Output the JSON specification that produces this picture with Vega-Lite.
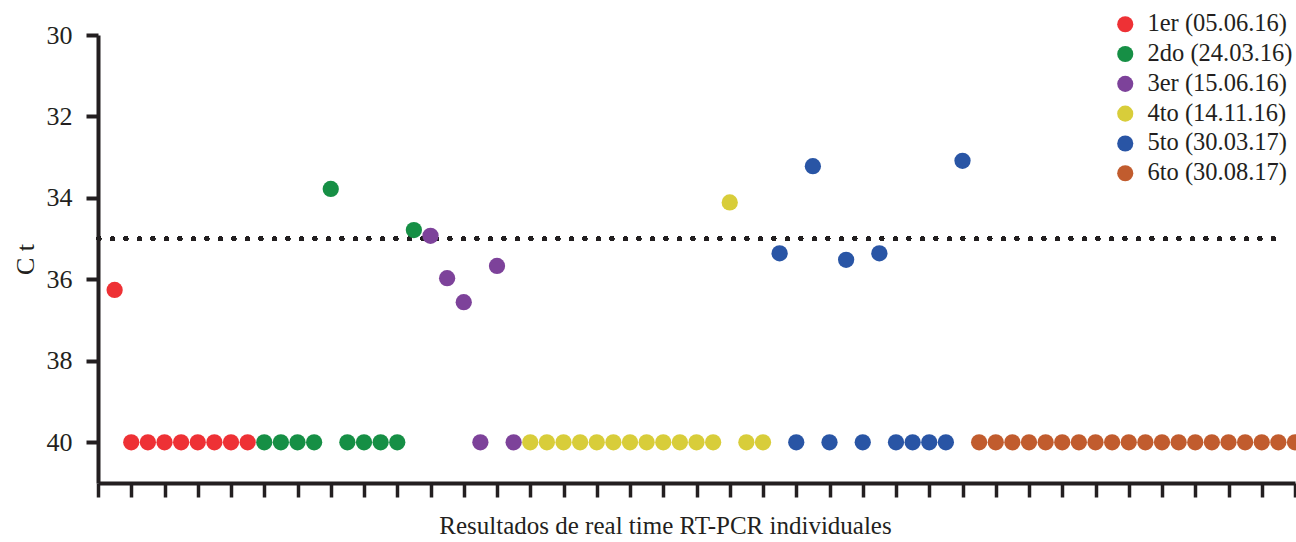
{
  "$schema": "https://vega.github.io/schema/vega-lite/v6.json",
  "width": 1197,
  "height": 448,
  "autosize": {"type": "none"},
  "padding": {"left": 98, "top": 35, "right": 1, "bottom": 59},
  "background": "white",
  "config": {"view": {"stroke": null}, "font": "Liberation Serif"},
  "data": {
    "values": [
      {"i": 1, "ct": 36.26, "serie": "1er (05.06.16)"},
      {"i": 2, "ct": 40, "serie": "1er (05.06.16)"},
      {"i": 3, "ct": 40, "serie": "1er (05.06.16)"},
      {"i": 4, "ct": 40, "serie": "1er (05.06.16)"},
      {"i": 5, "ct": 40, "serie": "1er (05.06.16)"},
      {"i": 6, "ct": 40, "serie": "1er (05.06.16)"},
      {"i": 7, "ct": 40, "serie": "1er (05.06.16)"},
      {"i": 8, "ct": 40, "serie": "1er (05.06.16)"},
      {"i": 9, "ct": 40, "serie": "1er (05.06.16)"},
      {"i": 10, "ct": 40, "serie": "2do (24.03.16)"},
      {"i": 11, "ct": 40, "serie": "2do (24.03.16)"},
      {"i": 12, "ct": 40, "serie": "2do (24.03.16)"},
      {"i": 13, "ct": 40, "serie": "2do (24.03.16)"},
      {"i": 14, "ct": 33.78, "serie": "2do (24.03.16)"},
      {"i": 15, "ct": 40, "serie": "2do (24.03.16)"},
      {"i": 16, "ct": 40, "serie": "2do (24.03.16)"},
      {"i": 17, "ct": 40, "serie": "2do (24.03.16)"},
      {"i": 18, "ct": 40, "serie": "2do (24.03.16)"},
      {"i": 19, "ct": 34.79, "serie": "2do (24.03.16)"},
      {"i": 20, "ct": 34.93, "serie": "3er (15.06.16)"},
      {"i": 21, "ct": 35.97, "serie": "3er (15.06.16)"},
      {"i": 22, "ct": 36.56, "serie": "3er (15.06.16)"},
      {"i": 23, "ct": 40, "serie": "3er (15.06.16)"},
      {"i": 24, "ct": 35.67, "serie": "3er (15.06.16)"},
      {"i": 25, "ct": 40, "serie": "3er (15.06.16)"},
      {"i": 26, "ct": 40, "serie": "4to (14.11.16)"},
      {"i": 27, "ct": 40, "serie": "4to (14.11.16)"},
      {"i": 28, "ct": 40, "serie": "4to (14.11.16)"},
      {"i": 29, "ct": 40, "serie": "4to (14.11.16)"},
      {"i": 30, "ct": 40, "serie": "4to (14.11.16)"},
      {"i": 31, "ct": 40, "serie": "4to (14.11.16)"},
      {"i": 32, "ct": 40, "serie": "4to (14.11.16)"},
      {"i": 33, "ct": 40, "serie": "4to (14.11.16)"},
      {"i": 34, "ct": 40, "serie": "4to (14.11.16)"},
      {"i": 35, "ct": 40, "serie": "4to (14.11.16)"},
      {"i": 36, "ct": 40, "serie": "4to (14.11.16)"},
      {"i": 37, "ct": 40, "serie": "4to (14.11.16)"},
      {"i": 38, "ct": 34.11, "serie": "4to (14.11.16)"},
      {"i": 39, "ct": 40, "serie": "4to (14.11.16)"},
      {"i": 40, "ct": 40, "serie": "4to (14.11.16)"},
      {"i": 41, "ct": 35.36, "serie": "5to (30.03.17)"},
      {"i": 42, "ct": 40, "serie": "5to (30.03.17)"},
      {"i": 43, "ct": 33.22, "serie": "5to (30.03.17)"},
      {"i": 44, "ct": 40, "serie": "5to (30.03.17)"},
      {"i": 45, "ct": 35.52, "serie": "5to (30.03.17)"},
      {"i": 46, "ct": 40, "serie": "5to (30.03.17)"},
      {"i": 47, "ct": 35.36, "serie": "5to (30.03.17)"},
      {"i": 48, "ct": 40, "serie": "5to (30.03.17)"},
      {"i": 49, "ct": 40, "serie": "5to (30.03.17)"},
      {"i": 50, "ct": 40, "serie": "5to (30.03.17)"},
      {"i": 51, "ct": 40, "serie": "5to (30.03.17)"},
      {"i": 52, "ct": 33.09, "serie": "5to (30.03.17)"},
      {"i": 53, "ct": 40, "serie": "6to (30.08.17)"},
      {"i": 54, "ct": 40, "serie": "6to (30.08.17)"},
      {"i": 55, "ct": 40, "serie": "6to (30.08.17)"},
      {"i": 56, "ct": 40, "serie": "6to (30.08.17)"},
      {"i": 57, "ct": 40, "serie": "6to (30.08.17)"},
      {"i": 58, "ct": 40, "serie": "6to (30.08.17)"},
      {"i": 59, "ct": 40, "serie": "6to (30.08.17)"},
      {"i": 60, "ct": 40, "serie": "6to (30.08.17)"},
      {"i": 61, "ct": 40, "serie": "6to (30.08.17)"},
      {"i": 62, "ct": 40, "serie": "6to (30.08.17)"},
      {"i": 63, "ct": 40, "serie": "6to (30.08.17)"},
      {"i": 64, "ct": 40, "serie": "6to (30.08.17)"},
      {"i": 65, "ct": 40, "serie": "6to (30.08.17)"},
      {"i": 66, "ct": 40, "serie": "6to (30.08.17)"},
      {"i": 67, "ct": 40, "serie": "6to (30.08.17)"},
      {"i": 68, "ct": 40, "serie": "6to (30.08.17)"},
      {"i": 69, "ct": 40, "serie": "6to (30.08.17)"},
      {"i": 70, "ct": 40, "serie": "6to (30.08.17)"},
      {"i": 71, "ct": 40, "serie": "6to (30.08.17)"},
      {"i": 72, "ct": 40, "serie": "6to (30.08.17)"}
    ]
  },
  "layer": [
    {
      "mark": {"type": "rule", "strokeDash": [0.1, 13.4], "strokeCap": "round", "strokeWidth": 4.5, "color": "#231F20"},
      "encoding": {
        "y": {"datum": 35, "type": "quantitative"},
        "x": {"datum": 0.05, "type": "quantitative"},
        "x2": {"datum": 71.4}
      }
    },
    {
      "mark": {"type": "circle", "size": 265, "opacity": 1},
      "encoding": {
        "x": {
          "field": "i",
          "type": "quantitative",
          "scale": {"domain": [0, 72], "nice": false, "zero": false},
          "axis": {
            "title": "Resultados de real time RT-PCR individuales",
            "values": [0, 2, 4, 6, 8, 10, 12, 14, 16, 18, 20, 22, 24, 26, 28, 30, 32, 34, 36, 38, 40, 42, 44, 46, 48, 50, 52, 54, 56, 58, 60, 62, 64, 66, 68, 70, 72],
            "tickCount": 100,
            "labels": false,
            "grid": false,
            "domainWidth": 4,
            "domainColor": "#231F20",
            "tickColor": "#231F20",
            "tickWidth": 3.5,
            "tickSize": 14,
            "titleFont": "Liberation Serif",
            "titleFontSize": 25,
            "titleFontWeight": "normal",
            "titleColor": "#231F20",
            "titleX": 567,
            "titleY": 50,
            "titleBaseline": "alphabetic"
          }
        },
        "y": {
          "field": "ct",
          "type": "quantitative",
          "scale": {"domain": [30, 41], "reverse": true, "nice": false, "zero": false},
          "axis": {
            "title": "C t",
            "values": [30, 32, 34, 36, 38, 40],
            "grid": false,
            "domainWidth": 4,
            "domainColor": "#231F20",
            "tickColor": "#231F20",
            "tickWidth": 4,
            "tickSize": 12,
            "labelFont": "Liberation Serif",
            "labelFontSize": 26,
            "labelColor": "#231F20",
            "labelPadding": 14,
            "titleFont": "Liberation Serif",
            "titleFontSize": 26,
            "titleFontWeight": "normal",
            "titleColor": "#231F20",
            "titleX": -65,
            "titleBaseline": "alphabetic"
          }
        },
        "color": {
          "field": "serie",
          "type": "nominal",
          "scale": {
            "domain": ["1er (05.06.16)", "2do (24.03.16)", "3er (15.06.16)", "4to (14.11.16)", "5to (30.03.17)", "6to (30.08.17)"],
            "range": ["#EE3135", "#168F45", "#7D429A", "#D8CD3A", "#2955A5", "#C15C2E"]
          },
          "legend": {
            "title": null,
            "orient": "none",
            "legendX": 1015,
            "legendY": -23,
            "padding": 0,
            "symbolType": "circle",
            "symbolSize": 260,
            "symbolStrokeWidth": 0,
            "symbolOpacity": 1,
            "labelFont": "Liberation Serif",
            "labelFontSize": 24.5,
            "labelColor": "#231F20",
            "labelOffset": 10,
            "rowPadding": 4.8,
            "labelLimit": 300
          }
        }
      }
    }
  ]
}
